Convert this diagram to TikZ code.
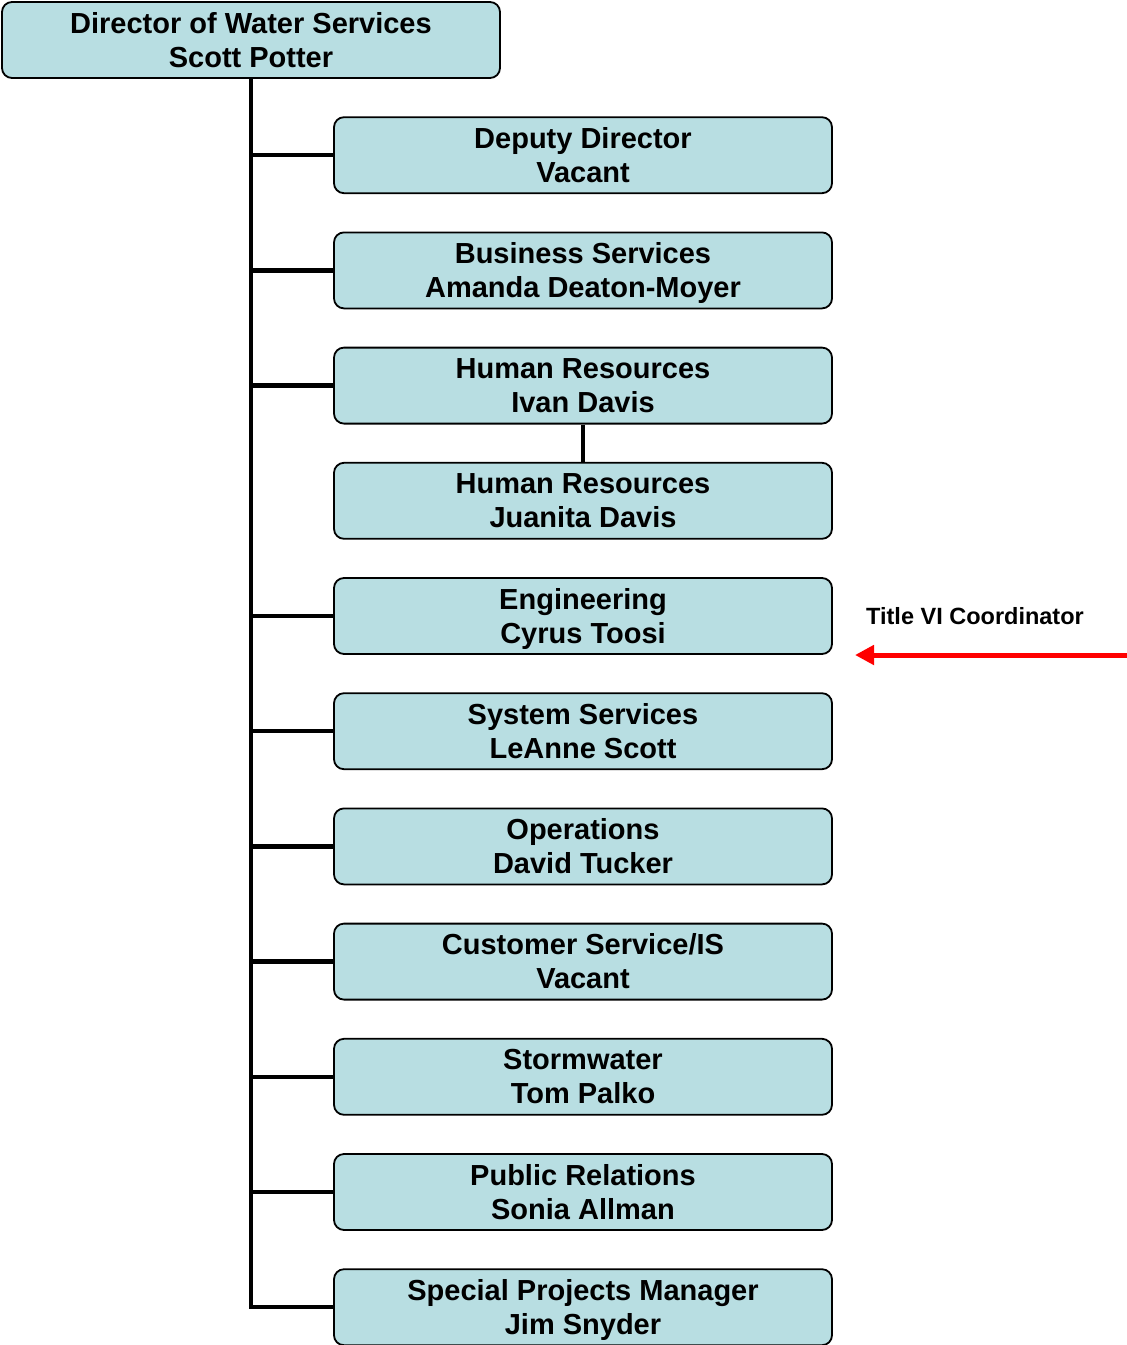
\documentclass[tikz,border=0pt]{standalone}
\usepackage{fontspec}
\setmainfont{Liberation Sans}
\usetikzlibrary{shapes.geometric, arrows.meta}
\definecolor{boxblue}{RGB}{184,222,226}
\tikzstyle{block} = [rectangle, rounded corners=10pt, minimum width=498pt, minimum height=76pt, align=center, draw=black, line width=1.8pt, fill=boxblue, font=\fontsize{29}{34}\selectfont\bfseries, inner sep=0pt, text depth=1pt]
\tikzstyle{trunk} = [line width=4.5pt]
\tikzstyle{note} = [font=\fontsize{23.5}{28}\selectfont\bfseries, inner sep=0pt]
\tikzstyle{arrow} = [draw=red, line width=5pt, -{Triangle[length=19pt,width=19pt]}]

\begin{document}
\begin{tikzpicture}[x=1pt, y=1pt, node distance=115.2pt]
	\useasboundingbox (0,0) rectangle (1127,-1345);
	
	% Nodes
	\node (director) [block] at (251,-40) {Director of Water Services\\Scott Potter};
	\node (deputy) [block, below of=director, xshift=332pt] {Deputy Director\\Vacant};
	\node (business) [block, below of=deputy] {Business Services\\Amanda Deaton-Moyer};
	\node (hrivan) [block, below of=business] {Human Resources\\Ivan Davis};
	\node (hrjuanita) [block, below of=hrivan] {Human Resources\\Juanita Davis};
	\node (engineering) [block, below of=hrjuanita] {Engineering\\Cyrus Toosi};
	\node (system) [block, below of=engineering] {System Services\\LeAnne Scott};
	\node (operations) [block, below of=system] {Operations\\David Tucker};
	\node (customer) [block, below of=operations] {Customer Service/IS\\Vacant};
	\node (stormwater) [block, below of=customer] {Stormwater\\Tom Palko};
	\node (publicrel) [block, below of=stormwater] {Public Relations\\Sonia Allman};
	\node (special) [block, below of=publicrel] {Special Projects Manager\\Jim Snyder};
	\node (titlevi) [note, right of=engineering, node distance=392pt] {Title VI Coordinator};
	\coordinate (arrowtail) at (1127,-655);
	\coordinate (arrowtip) at (855,-655);
	
	% Lines
	\draw [trunk] (director.south) |- (special.west);
	\foreach \n in {deputy, business, hrivan, engineering, system, operations, customer, stormwater, publicrel}
		\draw [trunk] (director.south |- \n.west) -- (\n.west);
	\draw [trunk] (hrivan) -- (hrjuanita);
	\draw [arrow] (arrowtail) -- (arrowtip);
	
\end{tikzpicture}
\end{document}
